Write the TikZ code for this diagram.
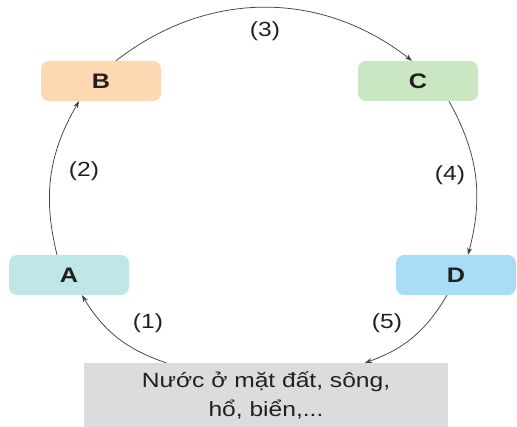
\documentclass[tikz,border=0pt]{standalone}
\usepackage{fontspec}
\setmainfont{Liberation Sans}[FakeStretch=1.2]
\usetikzlibrary{arrows.meta}
\definecolor{cA}{HTML}{BFE7EA}
\definecolor{cB}{HTML}{FDD8B3}
\definecolor{cC}{HTML}{CAE6C2}
\definecolor{cD}{HTML}{A9DDF7}
\definecolor{cE}{HTML}{DCDCDE}
\definecolor{ink}{HTML}{231F20}
\begin{document}
\begin{tikzpicture}[x=1pt,y=1pt,
  stagebox/.style={rounded corners=8pt, minimum width=120pt, minimum height=40pt, inner sep=0pt,
    font=\fontsize{21}{24}\selectfont\bfseries, text=ink},
  flow/.style={draw=ink!85, line width=0.75pt, -{Stealth[length=7pt,width=5pt]}},
  lab/.style={font=\fontsize{20.5}{22}\selectfont, text=ink}]
\useasboundingbox (0,0) rectangle (517,427);
\node[stagebox, fill=cB] (B) at (101,346) {B};
\node[stagebox, fill=cC] (C) at (418,346) {C};
\node[stagebox, fill=cA] (A) at (69,152) {A};
\node[stagebox, fill=cD] (D) at (456,152) {D};
\node[fill=cE, minimum width=364pt, minimum height=64pt, inner sep=0pt, text=ink,
  font=\fontsize{20.5}{29}\selectfont, align=center] (E) at (266,32)
  {Nước ở mặt đất, sông,\\hổ, biển,...};
\draw[flow] ([xshift=-100pt]E.north) to[bend left=20] ([xshift=13pt]A.south);
\draw[flow] ([xshift=-12pt]A.north) to[bend left=22] ([xshift=-22pt]B.south);
\draw[flow] ([xshift=15pt]B.north) to[bend left=38] ([xshift=-6pt]C.north);
\draw[flow] ([xshift=31pt]C.south) to[bend left=22] ([xshift=12pt]D.south |- D.north);
\draw[flow] ([xshift=-9pt]D.south) to[bend left=20] ([xshift=99pt]E.north);
\node[lab] (l1) at (148,104) {(1)};
\node[lab] (l2) at (84,256) {(2)};
\node[lab] (l3) at (265,396) {(3)};
\node[lab] (l4) at (450,252) {(4)};
\node[lab] (l5) at (387,104) {(5)};
\end{tikzpicture}
\end{document}
